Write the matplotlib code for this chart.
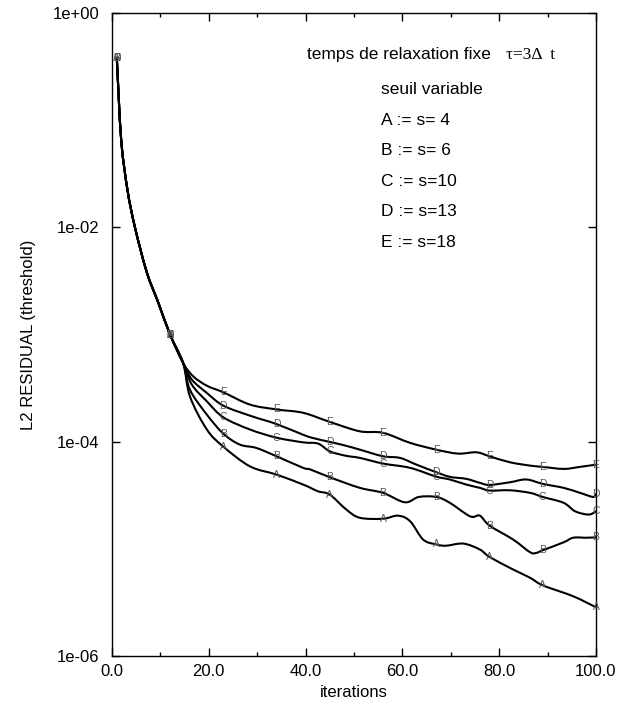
import numpy as np
import matplotlib
matplotlib.use("Agg")
import matplotlib.pyplot as plt
from matplotlib.path import Path
from matplotlib.patches import PathPatch
from matplotlib.ticker import FixedLocator, MultipleLocator, FormatStrFormatter, NullLocator

plt.rcParams['font.family'] = ['Liberation Sans', 'DejaVu Sans']

# common start (all thresholds identical until ~ iteration 14)
head_x = [1, 1.9, 3.2, 4.75, 7.2, 9.6, 12, 14.7]
head_y = [0.38, 0.066, 0.0224, 0.01, 0.0038, 0.00197, 0.001, 5.43e-4]

# s = 4
a_x = [16.1, 19.6, 23, 28.5, 34, 39.5, 42.6, 45, 48.4, 51.2, 56, 59.1, 61.6, 64.3,
       67, 69, 72.6, 76, 78, 82.9, 86.4, 89, 95.3, 100]
a_y = [2.65e-4, 1.30e-4, 9.0e-5, 5.89e-5, 4.93e-5, 3.98e-5, 3.44e-5, 3.21e-5, 2.33e-5,
       1.95e-5, 1.91e-5, 2.04e-5, 1.81e-5, 1.22e-5, 1.10e-5, 1.07e-5, 1.12e-5, 9.86e-6,
       8.41e-6, 6.41e-6, 5.37e-6, 4.57e-6, 3.61e-6, 2.85e-6]
# s = 6
b_x = [16.1, 19.6, 23, 26.4, 29.8, 34, 39.5, 41, 45, 51.2, 56, 60.5, 63.4, 67, 69.8,
       74, 76, 78, 82.9, 86.4, 87.7, 89, 93.3, 95.3, 98, 100]
b_y = [3.06e-4, 1.79e-4, 1.19e-4, 9.4e-5, 8.75e-5, 7.31e-5, 5.70e-5, 5.5e-5, 4.66e-5,
       3.71e-5, 3.33e-5, 2.72e-5, 3.05e-5, 3.05e-5, 2.69e-5, 2.01e-5, 2.04e-5, 1.65e-5,
       1.22e-5, 9.29e-6, 9.18e-6, 9.7e-6, 1.15e-5, 1.27e-5, 1.27e-5, 1.28e-5]
# s = 10
c_x = [16.5, 19.6, 23, 28.5, 34, 39.5, 42.6, 45, 48.2, 51.2, 56, 61.6, 67, 69.8, 73.2,
       76, 78, 82.2, 86.4, 89, 93.3, 95.7, 98.5, 100]
c_y = [3.41e-4, 2.38e-4, 1.69e-4, 1.30e-4, 1.09e-4, 9.86e-5, 9.59e-5, 8.13e-5, 7.41e-5,
       7.06e-5, 6.25e-5, 5.70e-5, 4.72e-5, 4.44e-5, 3.98e-5, 3.71e-5, 3.50e-5, 3.52e-5,
       3.33e-5, 3.05e-5, 2.69e-5, 2.24e-5, 2.09e-5, 2.24e-5]
# s = 13
d_x = [16.5, 19.6, 23, 28.5, 34, 39.5, 41.6, 45, 48.2, 51.2, 56, 59.5, 62.9, 67, 69.8,
       73.2, 76, 78, 82.2, 85.6, 89, 93.3, 96.7, 99.4, 100]
d_y = [3.80e-4, 2.85e-4, 2.17e-4, 1.75e-4, 1.46e-4, 1.16e-4, 1.08e-4, 9.95e-5, 9.2e-5,
       8.43e-5, 7.31e-5, 7.06e-5, 6.11e-5, 5.19e-5, 4.70e-5, 4.50e-5, 4.13e-5, 3.95e-5,
       4.18e-5, 4.44e-5, 4.04e-5, 3.71e-5, 3.33e-5, 3.05e-5, 3.24e-5]
# s = 18
e_x = [16.8, 19.6, 23, 28.5, 34, 39.5, 45, 51.2, 56, 61.6, 67, 71.5, 75.3, 78, 82.2,
       86.4, 89, 93.3, 96.7, 100]
e_y = [4.07e-4, 3.33e-4, 2.89e-4, 2.22e-4, 2.0e-4, 1.86e-4, 1.53e-4, 1.25e-4, 1.21e-4,
       9.75e-5, 8.43e-5, 7.74e-5, 7.96e-5, 7.31e-5, 6.43e-5, 5.98e-5, 5.82e-5, 5.57e-5,
       5.82e-5, 6.11e-5]

series = [("A", a_x, a_y), ("B", b_x, b_y), ("C", c_x, c_y), ("D", d_x, d_y), ("E", e_x, e_y)]
mark_at = [1, 12, 23, 34, 45, 56, 67, 78, 89, 100]

legend_lines = ["seuil variable", "A := s= 4", "B := s= 6", "C := s=10", "D := s=13", "E := s=18"]


def smooth_path(x, y):
    # bezier segments through the read points (like gnuplot's csplines), built in log space
    p = np.column_stack([np.asarray(x, float), np.log10(y)])
    verts = [p[0]]
    codes = [Path.MOVETO]
    n = len(p)
    for i in range(n - 1):
        p0 = p[i - 1] if i > 0 else p[i]
        p1, p2 = p[i], p[i + 1]
        p3 = p[i + 2] if i + 2 < n else p[i + 1]
        verts += [p1 + (p2 - p0) / 6, p2 - (p3 - p1) / 6, p2]
        codes += [Path.CURVE4] * 3
    verts = np.array(verts)
    verts[:, 1] = 10 ** verts[:, 1]
    return Path(verts, codes)


fig = plt.figure(figsize=(6.29, 7.07), dpi=100)
ax = fig.add_axes([0.178, 0.0721, 0.7695, 0.9095])

for name, xs, ys in series:
    x = head_x + xs
    y = head_y + ys
    ax.add_patch(PathPatch(smooth_path(x, y), facecolor='none', edgecolor='black',
                           lw=1.5, capstyle='round', joinstyle='round', zorder=2))
    for xi, yi in zip(x, y):
        if xi in mark_at:
            ax.text(xi, yi, name, fontsize=7.5, color='#555555', ha='center', va='center', zorder=3)

ax.set_yscale('log')
ax.set_xlim(0, 100)
ax.set_ylim(1e-6, 1)
ax.yaxis.set_major_locator(FixedLocator([1e-6, 1e-4, 1e-2, 1]))
ax.yaxis.set_minor_locator(NullLocator())
ax.set_yticklabels(["1e-06", "1e-04", "1e-02", "1e+00"])
ax.xaxis.set_major_locator(MultipleLocator(20))
ax.xaxis.set_minor_locator(MultipleLocator(10))
ax.xaxis.set_major_formatter(FormatStrFormatter('%.1f'))
ax.tick_params(which='both', direction='in', top=True, right=True, labelsize=12)
ax.tick_params(axis='y', pad=9)
ax.tick_params(axis='x', pad=6)
ax.tick_params(which='major', length=6, width=1)
ax.tick_params(which='minor', length=3, width=1)
for sp in ax.spines.values():
    sp.set_linewidth(1)

ax.set_xlabel("iterations", fontsize=12, labelpad=4)
ax.set_ylabel("L2 RESIDUAL (threshold)", fontsize=12, labelpad=12)

fig.text(307 / 629, 1 - 55 / 707, "temps de relaxation fixe", fontsize=12.5, va='center', ha='left')
fig.text(506 / 629, 1 - 55 / 707, "τ=3Δ  t", fontsize=12.5, va='center', ha='left',
         family=['Liberation Serif', 'DejaVu Serif'])
for i, line in enumerate(legend_lines):
    fig.text(381 / 629, 1 - (90 + 30.4 * i) / 707, line, fontsize=12.5, va='center', ha='left')

fig.savefig("out.png", dpi=100)
